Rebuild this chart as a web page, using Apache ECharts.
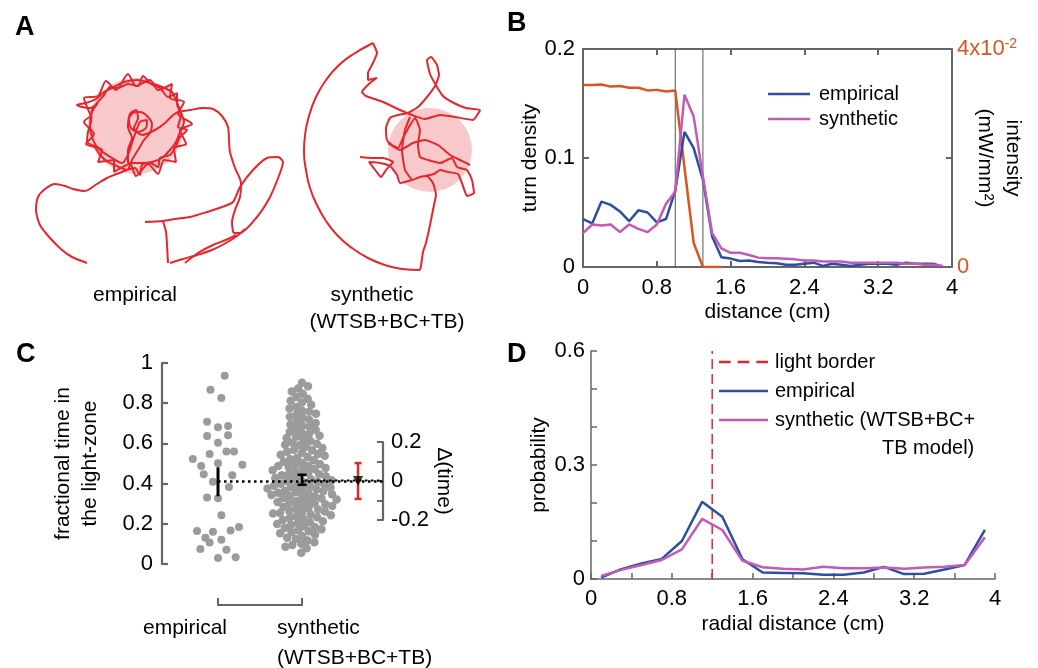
<!DOCTYPE html>
<html>
<head>
<meta charset="utf-8">
<script src="https://cdn.jsdelivr.net/npm/echarts@6.0.0/dist/echarts.min.js"></script>
<style>
  html, body { margin: 0; padding: 0; background: #fff; }
  #chart { width: 1038px; height: 668px; }
</style>
</head>
<body>
<div id="chart"></div>
<script>
// ---------- A: traced trajectories (offsets from light-zone centre, y down) ----------
const empLight = [[0, 0, 48]];
const synLight = [[0, 0, 42]];
const empTrack = [
  [[-49,137],[-64,131],[-74,124],[-86,112],[-96,99],[-100,84],[-98,71],[-91,63],[-81,58],[-71,60],[-63,63],[-51,65],[-39,58],[-29,52],[-22,49],[-14,46],[-9,44],
   [-1,42],[4,49],[6,39],[14,37],[22,41],[24,32],[34,29],[40,20],[44,11],[51,4],[42,1],[45,-11],[41,-22],[41,-33],[32,-29],[24,-38],[15,-42],[7,-50],[2,-40],
   [-8,-42],[-18,-38],[-26,-39],[-32,-31],[-39,-23],[-44,-16],[-45,-4],[-48,6],[-49,16],[-42,20],[-36,29],[-28,36],[-19,40],[-9,44],[-4,34],[2,24],[8,14],
   [14,7],[16,-2],[11,-10],[4,-14],[-3,-13],[-7,-7],[-5,2],[2,6],[10,2],[11,-6],[4,-4],[-3,14],[-8,29],[-14,37],[-24,32],[-36,24],[-43,14],[-46,-1],[-44,-14],
   [-38,-23],[-46,-18],[-54,-19],[-59,-21],[-50,-23],[-40,-27],[-32,-34],[-24,-38],[-12,-44],[2,-46],[14,-43],[26,-39],[36,-34],[40,-26],[44,-16],[48,-4],
   [44,6],[40,16],[34,24],[26,32],[16,36],[4,37],[-8,37],[-8,24],[-4,12],[-8,1],[-6,-12],[0,-16],[2,-8],[-2,2],[6,9],[19,4],[29,-3],[36,-10],[42,-14],
   [54,-16],[67,-18],[77,-17],[86,-10],[92,1],[93,14],[94,26],[99,42],[105,57],[104,71],[99,84],[96,96],[98,107],[104,107],[121,91],[134,71],[144,47],
   [147,36],[142,31],[131,32],[117,44],[104,61],[97,76],[86,81],[71,86],[54,91],[39,93],[27,95],[9,96]],
  [[27,95],[30,106],[31,119],[32,137]],
  [[34,137],[47,133],[61,129],[76,124],[90,117],[101,110],[109,103]],
  [[49,137],[62,127],[77,119],[92,113],[100,109]],
  [[-45,-10],[-52,-28],[-38,-30],[-30,-45],[-20,-36],[-8,-52],[0,-40],[14,-46],[22,-36],[36,-42],[34,-28],[48,-24],[42,-12],[56,-2],[44,4],
   [50,18],[38,22],[40,36],[28,34],[22,48],[12,38],[0,50],[-6,38],[-22,46],[-22,34],[-38,36],[-34,24],[-50,18],[-42,8],[-52,-4],[-45,-10]]
];
const synTrack = [
  [[-70,7],[-58,8],[-47,8],[-37,12],[-44,20],[-49,27],[-54,21],[-61,12],[-50,13],[-40,16],[-33,25],[-30,33],[-18,30],[-10,27],[-3,26],[3,33],[6,45],
   [4,55],[0,75],[-4,93],[-7,102],[-9,116],[-10,120]],
  [[-57,-107],[-53,-97],[-57,-87],[-62,-77],[-62,-70],[-53,-72],[-60,-67],[-68,-58],[-64,-54],[-47,-48],[-30,-40],[-18,-35],[-5,-31],[10,-35],[25,-33],
   [43,-30],[50,-40],[36,-42],[22,-48],[13,-54],[7,-63],[0,-76],[-3,-90],[1,-93],[7,-85],[9,-75],[5,-64],[-3,-53],[-12,-43],[-22,-37],[-32,-35],[-40,-32],
   [-44,-22],[-43,-10],[-38,-5],[-32,-2],[-27,-12],[-21,-23],[-15,-32],[-10,-20],[-12,-5],[-10,7],[-2,10],[10,13],[22,8],[27,17],[37,20],[42,30],[44,43],
   [37,46],[33,36],[28,24],[18,22],[10,20],[4,24],[-5,26]],
  [[-42,-7],[-30,0],[-17,-7],[-5,-10],[8,-5],[20,5],[30,10],[40,15]],
  [[-20,-33],[-25,-20],[-28,0],[-25,20],[-18,30]]
];
const synWall = [[-10,120],[-28,119],[-45,115],[-62,108],[-78,98],[-92,86],[-104,71],[-113,55],[-120,38],[-124,20],[-126,2],[-125,-15],[-121,-34],
  [-114,-53],[-104,-70],[-92,-84],[-78,-95],[-57,-107]];

// ---------- B: turn density vs distance ----------
const turnDist = [0,0.1,0.2,0.3,0.4,0.5,0.6,0.7,0.8,0.9,1.0,1.1,1.2,1.3,1.4,1.5,1.6,1.7,1.8,1.9,
                  2.0,2.1,2.2,2.3,2.4,2.5,2.6,2.7,2.8,2.9,3.0,3.1,3.2,3.3,3.4,3.5,3.6,3.7,3.8,3.9];
const turnEmpirical = [0.044,0.040,0.060,0.057,0.051,0.042,0.052,0.050,0.041,0.044,0.070,0.124,0.109,0.080,0.028,0.009,0.0077,0.0055,0.006,0.0046,
                       0.004,0.0035,0.002,0.002,0.003,0.004,0.001,0.003,0.002,0.001,0.002,0.003,0.003,0.003,0.002,0.004,0.003,0.003,0.003,0.0];
const turnSynthetic = [0.031,0.039,0.038,0.039,0.032,0.039,0.035,0.032,0.039,0.058,0.069,0.158,0.138,0.083,0.031,0.017,0.013,0.013,0.011,0.0086,
                       0.008,0.008,0.0075,0.007,0.006,0.006,0.005,0.005,0.005,0.004,0.004,0.004,0.004,0.004,0.004,0.003,0.003,0.002,0.002,0.001];
const intensityDist = [0,0.1,0.2,0.3,0.4,0.5,0.6,0.7,0.8,0.9,1.0,1.1,1.2,1.3,1.4,1.5];
const intensity = [0.0334,0.0334,0.0335,0.0331,0.0332,0.0329,0.0329,0.0324,0.0325,0.0322,0.0324,0.0183,0.0044,0,0,0];
const lightEdges = [1.0, 1.3];

// ---------- C: fractional time in the light zone ----------
const empFraction = [0.937,0.867,0.826,0.708,0.680,0.687,0.637,0.640,0.603,0.560,0.560,0.547,0.522,0.501,0.487,0.494,0.446,
                     0.441,0.409,0.383,0.331,0.327,0.242,0.164,0.161,0.167,0.184,0.131,0.121,0.107,0.075,0.071,0.030,0.033];
const empJitter = [0.08,-0.09,0.04,-0.13,0,0.12,-0.13,0.12,0,0.10,0.19,-0.10,-0.30,0,-0.20,0.29,-0.17,
                   0.17,-0.06,0.13,-0.13,0,0.04,-0.25,-0.06,0.15,0.25,-0.15,0.04,-0.10,-0.21,0.10,0,0.21];
const synFraction = [0.902,0.884,0.873,0.858, 0.847,0.831,0.822,0.812,0.803, 0.792,0.781,0.774,0.763,0.757,0.748,
  0.744,0.733,0.728,0.716,0.709,0.702, 0.694,0.688,0.681,0.672,0.667,0.658,0.652, 0.646,0.638,0.633,0.627,0.618,0.612,0.604,0.598,
  0.593,0.591,0.583,0.577,0.568,0.566,0.558,0.553,0.547, 0.544,0.539,0.532,0.528,0.521,0.516,0.509,0.503,0.498,
  0.494,0.489,0.487,0.483,0.478,0.473,0.468,0.466,0.459,0.453,0.448, 0.446,0.442,0.437,0.434,0.428,0.424,0.421,0.417,0.413,0.408,0.404,0.399,0.397,
  0.393,0.389,0.386,0.383,0.381,0.376,0.372,0.369,0.364,0.362,0.357,0.354,0.351,0.347, 0.343,0.339,0.336,0.331,0.328,0.326,0.321,0.316,0.312,0.308,0.303,0.301,0.297,
  0.293,0.289,0.284,0.279,0.276,0.271,0.264,0.261,0.258,0.254,0.251,0.246, 0.243,0.238,0.233,0.229,0.224,0.219,0.213,0.208,0.204,0.199,
  0.194,0.188,0.184,0.179,0.173,0.168,0.163,0.158,0.153, 0.146,0.139,0.131,0.124,0.117,0.108,0.101, 0.094,0.086,0.078,0.056];
const empBar = [0.337, 0.481];
const synBar = [0.394, 0.444];
const empMean = 0.41;
const synMean = 0.415;
const deltaMean = 0;
const deltaBar = [-0.092, 0.092];

// ---------- D: radial distance distribution ----------
const radialDist = [0.1,0.3,0.5,0.7,0.9,1.1,1.3,1.5,1.7,1.9,2.1,2.3,2.5,2.7,2.9,3.1,3.3,3.5,3.7,3.9];
const radialEmpirical = [0.004,0.026,0.041,0.053,0.100,0.203,0.164,0.052,0.017,0.016,0.015,0.011,0.011,0.017,0.032,0.013,0.014,0.025,0.037,0.129];
const radialSynthetic = [0.008,0.024,0.037,0.050,0.078,0.158,0.129,0.048,0.031,0.027,0.025,0.032,0.028,0.028,0.030,0.027,0.030,0.032,0.037,0.110];
const lightBorder = 1.2;

// ---------- styling ----------
const FONT = '"Liberation Sans", Arial, Helvetica, sans-serif';
const RED = '#e6262c', PINK = '#f7c9cb', BLUE = '#2d4ea4', MAGENTA = '#c25ab6', ORANGE = '#da5520';
const AXIS = '#666666', DOT = '#9b9b9b';
const LINE_ICON = 'rect';
const DASH_ICON = 'path://M0,0h10v2h-10z M16,0h10v2h-10z M32,0h10v2h-10z';

const zip = (xs, ys) => xs.map((x, i) => [x, ys[i]]);

// simple beeswarm: put each point at the free x offset closest to the centre
function swarm(values, centre, pxPerX, pxPerY, dist) {
  const placed = [];
  return values.map(v => {
    const y = v * pxPerY;
    const cands = [0];
    placed.forEach(p => {
      const dy = Math.abs(p.y - y);
      if (dy < dist) {
        const dx = Math.sqrt(dist * dist - dy * dy);
        cands.push(p.x + dx, p.x - dx);
      }
    });
    cands.sort((a, b) => Math.abs(a) - Math.abs(b));
    const x = cands.find(c => placed.every(p => (p.x - c) ** 2 + (p.y - y) ** 2 >= dist * dist - 1e-6));
    placed.push({ x, y });
    return [centre + x / pxPerX, v];
  });
}

function errorBar(name, xi, yi, data, color, cap, width) {
  return {
    name, type: 'custom', xAxisIndex: xi, yAxisIndex: yi, silent: true, z: 6,
    data,
    renderItem(params, api) {
      const p1 = api.coord([api.value(0), api.value(1)]);
      const p2 = api.coord([api.value(0), api.value(2)]);
      const st = { stroke: color, lineWidth: width };
      const kids = [{ type: 'line', shape: { x1: p1[0], y1: p1[1], x2: p2[0], y2: p2[1] }, style: st }];
      if (cap) {
        [p1, p2].forEach(p => kids.push({ type: 'line', shape: { x1: p[0] - cap / 2, y1: p[1], x2: p[0] + cap / 2, y2: p[1] }, style: st }));
      }
      return { type: 'group', children: kids };
    }
  };
}

function lightZone(xi, yi, data) {
  return {
    type: 'custom', xAxisIndex: xi, yAxisIndex: yi, silent: true, z: 1, data,
    renderItem(params, api) {
      const c = api.coord([api.value(0), api.value(1)]);
      const r = api.size([api.value(2), 0])[0];
      return { type: 'circle', shape: { cx: c[0], cy: c[1], r }, style: { fill: PINK } };
    }
  };
}

function track(xi, yi, seg, smooth) {
  return { type: 'line', xAxisIndex: xi, yAxisIndex: yi, data: seg, symbol: 'none', smooth, silent: true, z: 3,
           lineStyle: { color: RED, width: 2 } };
}

const hidden = (gi, min, max, inverse) => ({ gridIndex: gi, type: 'value', show: false, min, max, inverse: !!inverse });

const axisLine = w => ({ show: true, onZero: false, lineStyle: { color: AXIS, width: w } });
const tickIn = (len, w) => ({ show: true, inside: true, length: len, lineStyle: { color: AXIS, width: w } });
const fmt1 = v => String(+v.toFixed(1));
const box = (left, top, width, height) => ({ left, top, width, height, containLabel: false, outerBoundsMode: 'none' });

const C_MIN = 1 / 3, C_MAX = 2.964;   // category slots: empirical 1, synthetic 2, delta 2.667
const synDots = swarm(synFraction, 2, 84, 201, 7);

const chart = echarts.init(document.getElementById('chart'));
chart.setOption({
  animation: false,
  textStyle: { fontFamily: FONT, color: '#000' },
  grid: [
    box(10, 20, 280, 260),    // A empirical
    box(290, 20, 220, 260),   // A synthetic
    box(583, 49, 369, 218),   // B
    box(162, 363, 221, 201),  // C
    box(162, 442, 221, 78),   // C delta axis
    box(218, 560, 84, 45),    // C group bracket
    box(591, 351, 404, 228)   // D
  ],
  xAxis: [
    hidden(0, -126, 154),
    hidden(1, -140, 80),
    { gridIndex: 2, type: 'value', min: 0, max: 4, interval: 0.8, axisLine: axisLine(2), axisTick: tickIn(6, 2),
      splitLine: { show: false }, axisLabel: { fontSize: 22, color: '#000', margin: 10, formatter: fmt1 },
      name: 'distance (cm)', nameLocation: 'middle', nameGap: 35, nameTextStyle: { fontSize: 21, color: '#000' } },
    { gridIndex: 2, type: 'value', position: 'top', min: 0, max: 4, interval: 0.8, axisLine: axisLine(2), axisTick: tickIn(6, 2),
      splitLine: { show: false }, axisLabel: { show: false } },
    hidden(3, C_MIN, C_MAX),
    hidden(4, C_MIN, C_MAX),
    { gridIndex: 5, type: 'value', min: 1, max: 2, interval: 1, axisLine: axisLine(2), axisTick: tickIn(7, 2),
      splitLine: { show: false }, axisLabel: { show: false } },
    { gridIndex: 6, type: 'value', min: 0, max: 4, interval: 0.4, axisLine: axisLine(1.5), axisTick: tickIn(6, 1.5),
      splitLine: { show: false },
      axisLabel: { fontSize: 22, color: '#000', margin: 9,
        formatter: v => (Math.round(v / 0.4) % 2 === 0 ? fmt1(v) : '') },
      name: 'radial distance (cm)', nameLocation: 'middle', nameGap: 35, nameTextStyle: { fontSize: 21, color: '#000' } }
  ],
  yAxis: [
    hidden(0, -106, 154, true),
    hidden(1, -130, 130, true),
    { gridIndex: 2, type: 'value', min: 0, max: 0.2, interval: 0.1, axisLine: axisLine(2), axisTick: tickIn(6, 2),
      splitLine: { show: false }, axisLabel: { fontSize: 22, color: '#000', margin: 8, formatter: fmt1 },
      name: 'turn density', nameLocation: 'middle', nameGap: 42, nameRotate: 90, nameTextStyle: { fontSize: 21, color: '#000' } },
    { gridIndex: 2, type: 'value', position: 'right', min: 0, max: 0.04, interval: 0.02, axisLine: axisLine(2), axisTick: tickIn(6, 2),
      splitLine: { show: false },
      axisLabel: { fontSize: 22, color: ORANGE, margin: 5,
        formatter: v => (v === 0 ? '0' : (Math.abs(v - 0.04) < 1e-9 ? '4x10{s|-2}' : '')),
        rich: { s: { fontSize: 14, color: ORANGE, verticalAlign: 'top', padding: [0, 0, 10, 0] } } },
      name: 'intensity\n(mW/mm²)', nameLocation: 'middle', nameGap: 19, nameRotate: -90, nameMoveOverlap: false,
      nameTextStyle: { fontSize: 21, color: '#000', lineHeight: 28 } },
    { gridIndex: 3, type: 'value', min: 0, max: 1, interval: 0.2, axisLine: axisLine(2.2), axisTick: tickIn(6, 2.2),
      splitLine: { show: false }, axisLabel: { fontSize: 22, color: '#000', margin: 9, formatter: fmt1 },
      name: 'fractional time in\nthe light-zone', nameLocation: 'middle', nameGap: 58, nameRotate: 90,
      nameTextStyle: { fontSize: 21, color: '#000', lineHeight: 27 } },
    { gridIndex: 4, type: 'value', position: 'right', min: -0.2, max: 0.2, interval: 0.1, axisLine: axisLine(2.2), axisTick: tickIn(6, 2),
      splitLine: { show: false },
      axisLabel: { fontSize: 22, color: '#000', margin: 8,
        formatter: v => (Math.round(v * 10) % 2 === 0 ? fmt1(v) : '') },
      name: 'Δ(time)', nameLocation: 'middle', nameGap: 48, nameRotate: -90, nameTextStyle: { fontSize: 21, color: '#000' } },
    hidden(5, 0, 1),
    { gridIndex: 6, type: 'value', min: 0, max: 0.6, interval: 0.1, axisLine: axisLine(1.5), axisTick: tickIn(6, 1.5),
      splitLine: { show: false },
      axisLabel: { fontSize: 22, color: '#000', margin: 6,
        formatter: v => (Math.round(v * 10) % 3 === 0 ? fmt1(v) : '') },
      name: 'probability', nameLocation: 'middle', nameGap: 41, nameRotate: 90, nameTextStyle: { fontSize: 21, color: '#000' } }
  ],
  legend: [
    { data: [{ name: 'empirical', icon: LINE_ICON }, { name: 'synthetic', icon: LINE_ICON }],
      orient: 'vertical', left: 768, top: 84, padding: 0, itemWidth: 42, itemHeight: 2.5, itemGap: 5,
      selectedMode: false, textStyle: { fontSize: 20, lineHeight: 20, color: '#000', padding: [0, 0, 0, 4] } },
    { data: [{ name: 'light border', icon: DASH_ICON }, { name: 'D empirical', icon: LINE_ICON }, { name: 'D synthetic', icon: LINE_ICON }],
      orient: 'vertical', left: 719, top: 352, padding: 0, itemWidth: 49, itemHeight: 2.5, itemGap: 9,
      selectedMode: false, textStyle: { fontSize: 20, lineHeight: 20, color: '#000', padding: [0, 0, 0, 2] },
      formatter: n => ({ 'light border': 'light border', 'D empirical': 'empirical', 'D synthetic': 'synthetic (WTSB+BC+' })[n] }
  ],
  graphic: [
    { type: 'text', left: 15, top: 14, style: { text: 'A', font: 'bold 27px ' + FONT, fill: '#000' } },
    { type: 'text', left: 507, top: 10, style: { text: 'B', font: 'bold 27px ' + FONT, fill: '#000' } },
    { type: 'text', left: 16, top: 341, style: { text: 'C', font: 'bold 27px ' + FONT, fill: '#000' } },
    { type: 'text', left: 507, top: 341, style: { text: 'D', font: 'bold 27px ' + FONT, fill: '#000' } },
    { type: 'text', x: 135, y: 295, style: { text: 'empirical', font: '21px ' + FONT, fill: '#000', align: 'center', verticalAlign: 'middle' } },
    { type: 'text', x: 372, y: 295, style: { text: 'synthetic', font: '21px ' + FONT, fill: '#000', align: 'center', verticalAlign: 'middle' } },
    { type: 'text', x: 387, y: 322, style: { text: '(WTSB+BC+TB)', font: '21px ' + FONT, fill: '#000', align: 'center', verticalAlign: 'middle' } },
    { type: 'text', x: 185, y: 628, style: { text: 'empirical', font: '21px ' + FONT, fill: '#000', align: 'center', verticalAlign: 'middle' } },
    { type: 'text', x: 277, y: 628, style: { text: 'synthetic', font: '21px ' + FONT, fill: '#000', align: 'left', verticalAlign: 'middle' } },
    { type: 'text', x: 277, y: 658, style: { text: '(WTSB+BC+TB)', font: '21px ' + FONT, fill: '#000', align: 'left', verticalAlign: 'middle' } },
    { type: 'text', x: 882, y: 448, style: { text: 'TB model)', font: '20px ' + FONT, fill: '#000', align: 'left', verticalAlign: 'middle' } }
  ],
  series: [
    // A
    lightZone(0, 0, empLight),
    lightZone(1, 1, synLight),
    ...empTrack.map(seg => track(0, 0, seg, 0.25)),
    ...synTrack.map(seg => track(1, 1, seg, 0.15)),
    track(1, 1, synWall, 0.5),
    // B
    ...lightEdges.map(e => ({ type: 'line', xAxisIndex: 2, yAxisIndex: 2, data: [[e, 0], [e, 0.2]], symbol: 'none', silent: true,
      lineStyle: { color: '#555', width: 1 } })),
    { name: 'intensity', type: 'line', xAxisIndex: 2, yAxisIndex: 3, data: zip(intensityDist, intensity), symbol: 'none',
      lineStyle: { color: ORANGE, width: 2.5 }, itemStyle: { color: ORANGE } },
    { name: 'empirical', type: 'line', xAxisIndex: 2, yAxisIndex: 2, data: zip(turnDist, turnEmpirical), symbol: 'none',
      lineStyle: { color: BLUE, width: 2.5 }, itemStyle: { color: BLUE } },
    { name: 'synthetic', type: 'line', xAxisIndex: 2, yAxisIndex: 2, data: zip(turnDist, turnSynthetic), symbol: 'none',
      lineStyle: { color: MAGENTA, width: 2.5 }, itemStyle: { color: MAGENTA } },
    // C
    { type: 'scatter', xAxisIndex: 4, yAxisIndex: 4, data: empFraction.map((v, i) => [1 + empJitter[i], v]), symbolSize: 8,
      itemStyle: { color: DOT, opacity: 1 }, silent: true, z: 2 },
    { type: 'scatter', xAxisIndex: 4, yAxisIndex: 4, data: synDots, symbolSize: 8.5,
      itemStyle: { color: DOT, opacity: 1 }, silent: true, z: 2 },
    { type: 'line', xAxisIndex: 4, yAxisIndex: 4, data: [[1, empMean], [C_MAX, empMean]], symbol: 'none', silent: true, z: 5,
      lineStyle: { color: '#000', width: 2.5, type: [2.5, 3.5] } },
    { type: 'line', xAxisIndex: 4, yAxisIndex: 4, data: [[2, synMean], [C_MAX, synMean]], symbol: 'none', silent: true, z: 5,
      lineStyle: { color: '#000', width: 2, type: [2.5, 3.5], dashOffset: 3 } },
    errorBar('empBar', 4, 4, [[1, empBar[0], empBar[1]]], '#000', 0, 3),
    errorBar('synBar', 4, 4, [[2, synBar[0], synBar[1]]], '#000', 9, 2.5),
    errorBar('deltaBar', 5, 5, [[2.667, deltaBar[0], deltaBar[1]]], RED, 7, 2.5),
    { type: 'scatter', xAxisIndex: 5, yAxisIndex: 5, data: [[2.667, deltaMean]], symbol: 'triangle', symbolRotate: 180, symbolSize: 10,
      itemStyle: { color: '#000' }, silent: true, z: 7 },
    // D
    { name: 'light border', type: 'line', xAxisIndex: 7, yAxisIndex: 7, data: [[lightBorder, 0], [lightBorder, 0.6]], symbol: 'none',
      lineStyle: { color: RED, width: 1.5, type: [10, 5] }, itemStyle: { color: RED } },
    { name: 'D empirical', type: 'line', xAxisIndex: 7, yAxisIndex: 7, data: zip(radialDist, radialEmpirical), symbol: 'none',
      lineStyle: { color: BLUE, width: 2.5 }, itemStyle: { color: BLUE } },
    { name: 'D synthetic', type: 'line', xAxisIndex: 7, yAxisIndex: 7, data: zip(radialDist, radialSynthetic), symbol: 'none',
      lineStyle: { color: MAGENTA, width: 2.5 }, itemStyle: { color: MAGENTA } }
  ]
});
</script>
</body>
</html>
